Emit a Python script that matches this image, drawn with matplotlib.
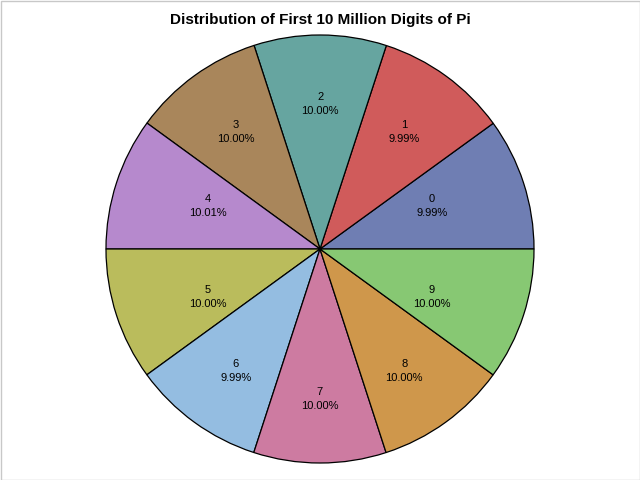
import numpy as np
import matplotlib
matplotlib.use("Agg")
import matplotlib.pyplot as plt
from matplotlib.patches import Rectangle

digits = ["0", "1", "2", "3", "4", "5", "6", "7", "8", "9"]
percents = [9.99, 9.99, 10.00, 10.00, 10.01, 10.00, 9.99, 10.00, 10.00, 10.00]
colors = ["#6F7EB3", "#D05B5B", "#66A5A0", "#A9865B", "#B689CD",
          "#BABC5C", "#94BDE1", "#CD7BA1", "#CF974B", "#87C873"]
title = "Distribution of First 10 Million Digits of Pi"

plt.rcParams['font.family'] = ['Liberation Sans', 'DejaVu Sans']

fig = plt.figure(figsize=(6.4, 4.8), dpi=100)
ax = fig.add_axes([106/640, 17/480, 428/640, 428/480])
wedges, _ = ax.pie(percents, colors=colors, startangle=0, counterclock=True,
                   radius=1.0,
                   wedgeprops=dict(edgecolor="black", linewidth=0.9))
for w, d, p in zip(wedges, digits, percents):
    mid = np.deg2rad((w.theta1 + w.theta2) / 2)
    rx = 0.55 if abs(np.cos(mid)) > 0.8 else 0.67
    ry = 0.69
    x, y = rx * np.cos(mid), ry * np.sin(mid) - 0.012
    ax.text(x, y, f"{d}\n{p:.2f}%", ha="center", va="center",
            fontsize=8, linespacing=1.5, color="black")
ax.set_xlim(-1, 1)
ax.set_ylim(-1, 1)
ax.set_aspect("equal")
ax.axis("off")

fig.text(0.5, 1 - 20/480, title, ha="center", va="center",
         fontsize=11, fontweight="bold")
fig.patches.append(Rectangle((0.5/640, 0.5/480), 1 - 1/640, 1 - 1/480,
                             transform=fig.transFigure, fill=False,
                             edgecolor="#C8C8C8", linewidth=1))
fig.savefig("out.png", dpi=100)
